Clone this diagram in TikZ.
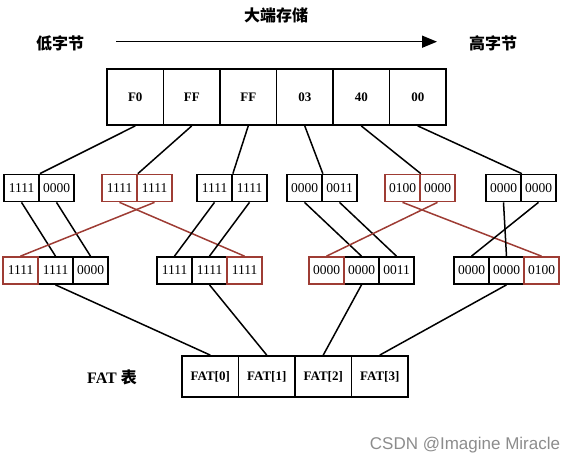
\documentclass[tikz,border=0pt]{standalone}
\usepackage{fontspec}
\setmainfont{Liberation Serif}
\newfontfamily\cjk{Noto Sans CJK SC}
\newfontfamily\wmfont{Liberation Sans}
\usepackage{tikz}
\usetikzlibrary{calc}
\usetikzlibrary{arrows.meta,positioning}
\usepackage{xcolor}
\definecolor{mred}{RGB}{158,60,52}
\definecolor{wmgray}{RGB}{140,140,140}

\begin{document}
\begin{tikzpicture}[x=1pt,y=-1pt,
    topcell/.style={draw, line width=1.8pt, minimum width=56.5pt, minimum height=56pt,
      inner sep=0pt, font=\fontsize{13}{13}\selectfont\bfseries},
    bitcell/.style={draw, line width=1.7pt, minimum width=35pt, minimum height=27pt,
      inner sep=0pt, font=\fontsize{13.5}{13.5}\selectfont},
    redcell/.style={bitcell, draw=mred},
    fatcell/.style={draw, line width=1.8pt, minimum width=56.5pt, minimum height=41pt,
      inner sep=0pt, font=\fontsize{13}{13}\selectfont\bfseries},
    link/.style={line width=1.5pt},
    redlink/.style={link, mred}]
    \useasboundingbox (0,0) rectangle (584,464);
    %% title and direction
    \node[font=\cjk\bfseries\fontsize{16}{16}\selectfont] (title) at (276,15) {大端存储};
    \node[font=\cjk\bfseries\fontsize{16}{16}\selectfont] (low) at (60,43) {低字节};
    \node[font=\cjk\bfseries\fontsize{16}{16}\selectfont] (high) at (493,43) {高字节};
    \coordinate (a0) at (116,41.7);
    \coordinate (a1) at (437,41.7);
    \draw[line width=1.5pt, -{Triangle[length=15pt,width=12pt]}] (a0) -- (a1);
    %% stored bytes
    \node[topcell] (t1) at (135.25,97) {F0};
    \node[topcell] (t2) at (191.75,97) {FF};
    \node[topcell] (t3) at (248.25,97) {FF};
    \node[topcell] (t4) at (304.75,97) {03};
    \node[topcell] (t5) at (361.25,97) {40};
    \node[topcell] (t6) at (417.75,97) {00};
    %% half bytes
    \node[bitcell] (p1a) at (21.5,188) {1111};
    \node[bitcell] (p1b) at (56.5,188) {0000};
    \node[redcell] (p2a) at (119.5,188) {1111};
    \node[redcell] (p2b) at (154.5,188) {1111};
    \node[bitcell] (p3a) at (214.5,188) {1111};
    \node[bitcell] (p3b) at (249.5,188) {1111};
    \node[bitcell] (p4a) at (304.5,188) {0000};
    \node[bitcell] (p4b) at (339.5,188) {0011};
    \node[redcell] (p5a) at (402.5,188) {0100};
    \node[redcell] (p5b) at (437.5,188) {0000};
    \node[bitcell] (p6a) at (503.5,188) {0000};
    \node[bitcell] (p6b) at (538.5,188) {0000};
    %% 12 bit entries
    \node[bitcell] (q1b) at (55.5,270.5) {1111};
    \node[bitcell] (q1c) at (90.5,270.5) {0000};
    \node[redcell] (q1a) at (20.5,270.5) {1111};
    \node[bitcell] (q2a) at (174.5,270.5) {1111};
    \node[bitcell] (q2b) at (209.5,270.5) {1111};
    \node[redcell] (q2c) at (244.5,270.5) {1111};
    \node[bitcell] (q3b) at (361.5,270.5) {0000};
    \node[bitcell] (q3c) at (396.5,270.5) {0011};
    \node[redcell] (q3a) at (326.5,270.5) {0000};
    \node[bitcell] (q4a) at (471.5,270.5) {0000};
    \node[bitcell] (q4b) at (506.5,270.5) {0000};
    \node[redcell] (q4c) at (541.5,270.5) {0100};
    %% FAT
    \node[font=\fontsize{16}{16}\selectfont\bfseries] (fatlbl) at (112,377) {FAT {\cjk 表}};
    \node[fatcell] (f0) at (210.25,376.5) {FAT[0]};
    \node[fatcell] (f1) at (266.75,376.5) {FAT[1]};
    \node[fatcell] (f2) at (323.25,376.5) {FAT[2]};
    \node[fatcell] (f3) at (379.75,376.5) {FAT[3]};
    %% bytes to half bytes
    \draw[link] (t1.south) -- (p1a.north east);
    \draw[link] (t2.south) -- (p2a.north east);
    \draw[link] (t3.south) -- (p3a.north east);
    \draw[link] (t4.south) -- (p4a.north east);
    \draw[link] (t5.south) -- (p5a.north east);
    \draw[link] (t6.south) -- (p6a.north east);
    %% half bytes to entries
    \draw[link] (p1a.south) -- (q1b.north);
    \draw[link] (p1b.south) -- (q1c.north);
    \draw[redlink] (p2a.south) -- (q2c.north);
    \draw[redlink] (p2b.south) -- (q1a.north);
    \draw[link] (p3a.south) -- (q2a.north);
    \draw[link] (p3b.south) -- (q2b.north);
    \draw[link] (p4a.south) -- (q3b.north);
    \draw[link] (p4b.south) -- (q3c.north);
    \draw[redlink] (p5a.south) -- (q4c.north);
    \draw[redlink] (p5b.south) -- (q3a.north);
    \draw[link] (p6a.south) -- (q4b.north);
    \draw[link] (p6b.south) -- (q4a.north);
    %% entries to FAT
    \draw[link] (q1b.south) -- (f0.north);
    \draw[link] (q2b.south) -- (f1.north);
    \draw[link] (q3b.south) -- (f2.north);
    \draw[link] (q4b.south) -- (f3.north);
    \node[font=\wmfont\fontsize{17}{17}\selectfont, text=wmgray] (wm) at (465,445) {CSDN @Imagine Miracle};
  \end{tikzpicture}
\end{document}
